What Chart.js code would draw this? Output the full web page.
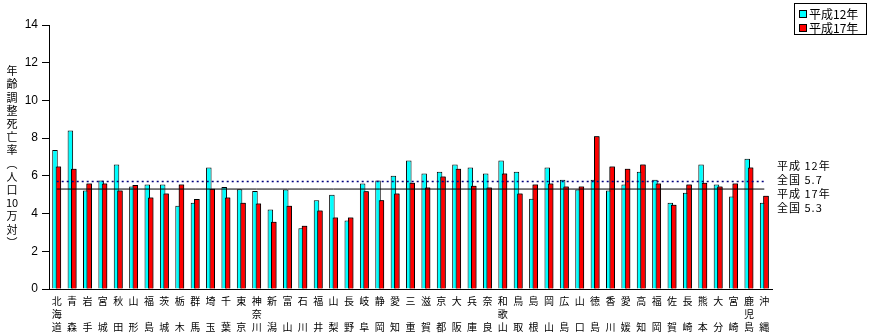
<!DOCTYPE html>
<html>
<head>
<meta charset="utf-8">
<script src="https://cdn.jsdelivr.net/npm/chart.js@4.4.1/dist/chart.umd.min.js"></script>
<style>
html, body { margin: 0; padding: 0; background: #fff; }
</style>
</head>
<body>
<canvas id="MortalityChart" width="870" height="334"></canvas>
<script>
var prefectures = ['北海道','青森','岩手','宮城','秋田','山形','福島','茨城','栃木','群馬',
  '埼玉','千葉','東京','神奈川','新潟','富山','石川','福井','山梨','長野',
  '岐阜','静岡','愛知','三重','滋賀','京都','大阪','兵庫','奈良','和歌山',
  '鳥取','島根','岡山','広島','山口','徳島','香川','愛媛','高知','福岡',
  '佐賀','長崎','熊本','大分','宮崎','鹿児島','沖縄'];

var h12 = [7.37, 8.40, 5.22, 5.75, 6.60, 5.43, 5.54, 5.54, 4.42, 4.58,
  6.44, 5.41, 5.29, 5.20, 4.21, 5.27, 3.22, 4.70, 5.00, 3.63,
  5.59, 5.75, 6.01, 6.81, 6.13, 6.22, 6.60, 6.44, 6.13, 6.81,
  6.22, 4.79, 6.44, 5.80, 5.27, 5.80, 5.22, 5.54, 6.22, 5.80,
  4.58, 5.11, 6.60, 5.54, 4.90, 6.91, 4.58];

var h17 = [6.49, 6.38, 5.60, 5.60, 5.22, 5.52, 4.85, 5.06, 5.54, 4.77,
  5.32, 4.85, 4.58, 4.53, 3.57, 4.42, 3.36, 4.16, 3.79, 3.79,
  5.18, 4.70, 5.06, 5.64, 5.38, 5.96, 6.38, 5.48, 5.38, 6.13,
  5.06, 5.54, 5.59, 5.43, 5.43, 8.10, 6.49, 6.38, 6.60, 5.59,
  4.47, 5.54, 5.64, 5.43, 5.59, 6.44, 4.95];

var nationalH12 = 5.7;
var nationalH17 = 5.3;
var seriesNames = ['平成12年', '平成17年'];
var yTitle = ['年','齢','調','整','死','亡','率','︵','人','口','10','万','対','︶'];

// two-character names leave the middle row empty
var labels = prefectures.map(function(p) {
  var c = p.split('');
  return c.length === 3 ? c : [c[0], '', c[1]];
});

var cjk = "'Noto Sans CJK JP', sans-serif";

var extras = {
  id: 'extras',
  afterDatasetDraw: function(chart, args) {
    // red bars sit on top of the cyan ones
    if (args.index === 0) {
      var c = chart.ctx;
      chart.getDatasetMeta(1).data.forEach(function(b) { b.draw(c); });
    }
  },
  afterDraw: function(chart) {
    var c = chart.ctx;
    c.save();
    c.fillStyle = '#000';
    c.textAlign = 'center';
    c.textBaseline = 'middle';
    c.font = '11px ' + cjk;
    yTitle.forEach(function(t, i) {
      c.fillText(t, 12, 71 + i * 13.2);
    });

    // notes for national averages
    c.textAlign = 'left';
    c.letterSpacing = '1px';
    c.font = '11px ' + cjk;
    c.fillText('平成 12年', 777, 166);
    c.fillText('全国 ' + nationalH12.toFixed(1), 777, 180);
    c.fillText('平成 17年', 777, 194);
    c.fillText('全国 ' + nationalH17.toFixed(1), 777, 208);

    // legend box
    c.letterSpacing = '0px';
    c.strokeStyle = '#000';
    c.lineWidth = 1;
    c.strokeRect(794.5, 3.5, 72, 31);
    var cols = ['#00FFFF', '#FF0000'];
    c.font = '12px ' + cjk;
    for (var i = 0; i < 2; i++) {
      var y = 10 + i * 14;
      c.fillStyle = cols[i];
      c.fillRect(799.5, y + 0.5, 7, 7);
      c.strokeRect(799.5, y + 0.5, 7, 7);
      c.fillStyle = '#000';
      c.fillText(seriesNames[i], 809, y + 4);
    }
    c.restore();
  }
};

var ctx = MortalityChart.getContext('2d');
var chart = new Chart(ctx, {
  type: 'bar',
  data: {
    labels: labels,
    datasets: [{
      label: seriesNames[0],
      data: h12,
      backgroundColor: '#00FFFF',
      borderColor: '#000',
      borderWidth: 1,
      order: 1
    }, {
      label: seriesNames[1],
      data: h17,
      backgroundColor: '#FF0000',
      borderColor: '#000',
      borderWidth: 1,
      order: 1
    }, {
      type: 'line',
      label: '全国 平成12年',
      data: prefectures.map(function() { return nationalH12; }),
      borderColor: '#000080',
      borderWidth: 1.5,
      borderDash: [2, 3],
      pointRadius: 0,
      order: 0
    }, {
      type: 'line',
      label: '全国 平成17年',
      data: prefectures.map(function() { return nationalH17; }),
      borderColor: '#000',
      borderWidth: 1,
      pointRadius: 0,
      order: 0
    }]
  },
  options: {
    responsive: false,
    animation: false,
    devicePixelRatio: 1,
    categoryPercentage: 0.443,
    barPercentage: 1.62,
    layout: { padding: { top: 25, right: 98, left: 0, bottom: 0 } },
    plugins: {
      legend: { display: false },
      tooltip: { enabled: false }
    },
    scales: {
      x: {
        grid: { display: false, drawTicks: false, tickLength: 0 },
        border: { color: '#000', width: 1 },
        ticks: {
          color: '#000',
          autoSkip: false,
          maxRotation: 0,
          padding: 6,
          font: { family: cjk, size: 10, lineHeight: 1.3 }
        },
        afterFit: function(s) { s.height = 45; }
      },
      y: {
        min: 0,
        max: 14,
        grid: { drawOnChartArea: false, color: '#000', tickLength: 7 },
        border: { color: '#000', width: 1 },
        ticks: {
          stepSize: 2,
          color: '#000',
          padding: 4,
          font: { family: "'Liberation Sans', Arial, sans-serif", size: 12 }
        },
        afterFit: function(s) { s.width = 49; }
      }
    }
  },
  plugins: [extras]
});
</script>
</body>
</html>
